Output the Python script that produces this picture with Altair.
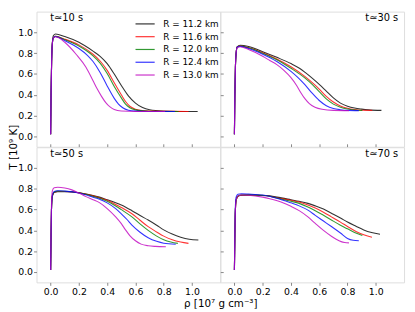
import altair as alt
import pandas as pd

R_LABELS = ["R = 11.2 km", "R = 11.6 km", "R = 12.0 km", "R = 12.4 km", "R = 13.0 km"]
COLORS = ["#000000", "#ff0000", "#008000", "#0000ff", "#bf00bf"]
PANEL_LABELS = ["t≃10 s", "t≃30 s", "t≃50 s", "t≃70 s"]
X_TICKS = [0.0, 0.2, 0.4, 0.6, 0.8, 1.0]
Y_TICKS = [0.0, 0.2, 0.4, 0.6, 0.8, 1.0]

# (rho [1e7 g/cm3], T [1e9 K])
t10_k = [(0, 0.02), (0.003, 0.40), (0.007, 0.72), (0.012, 0.90), (0.02, 0.97), (0.035, 0.985), (0.1, 0.96), (0.2, 0.905), (0.3, 0.82), (0.35, 0.77), (0.4, 0.70), (0.45, 0.60), (0.5, 0.49), (0.55, 0.39), (0.6, 0.32), (0.65, 0.277), (0.7, 0.256), (0.8, 0.243), (0.9, 0.24), (1.04, 0.24)]
t10_r = [(0, 0.02), (0.003, 0.40), (0.007, 0.72), (0.012, 0.89), (0.02, 0.95), (0.035, 0.962), (0.1, 0.935), (0.2, 0.88), (0.3, 0.79), (0.35, 0.725), (0.4, 0.635), (0.45, 0.515), (0.5, 0.40), (0.53, 0.335), (0.56, 0.29), (0.6, 0.262), (0.65, 0.248), (0.75, 0.241), (0.975, 0.24)]
t10_g = [(0, 0.02), (0.003, 0.40), (0.007, 0.72), (0.012, 0.89), (0.02, 0.95), (0.035, 0.962), (0.1, 0.93), (0.2, 0.87), (0.3, 0.775), (0.35, 0.705), (0.4, 0.605), (0.45, 0.48), (0.5, 0.37), (0.53, 0.31), (0.56, 0.275), (0.6, 0.255), (0.65, 0.245), (0.75, 0.24), (0.905, 0.24)]
t10_b = [(0, 0.02), (0.003, 0.40), (0.007, 0.72), (0.012, 0.89), (0.02, 0.95), (0.035, 0.96), (0.1, 0.92), (0.2, 0.845), (0.26, 0.78), (0.3, 0.72), (0.35, 0.615), (0.4, 0.485), (0.45, 0.365), (0.48, 0.31), (0.51, 0.275), (0.55, 0.252), (0.6, 0.243), (0.7, 0.24), (0.88, 0.24)]
t10_m = [(0, 0.02), (0.003, 0.40), (0.007, 0.72), (0.012, 0.89), (0.02, 0.95), (0.035, 0.958), (0.1, 0.905), (0.18, 0.79), (0.25, 0.665), (0.3, 0.535), (0.33, 0.455), (0.36, 0.385), (0.39, 0.325), (0.42, 0.283), (0.45, 0.258), (0.5, 0.244), (0.6, 0.24), (0.81, 0.24)]

t30_k = [(0, 0.02), (0.003, 0.38), (0.007, 0.66), (0.012, 0.80), (0.02, 0.86), (0.04, 0.876), (0.1, 0.865), (0.2, 0.815), (0.3, 0.76), (0.4, 0.70), (0.46, 0.655), (0.5, 0.615), (0.55, 0.56), (0.6, 0.50), (0.65, 0.435), (0.7, 0.37), (0.75, 0.32), (0.8, 0.29), (0.85, 0.272), (0.9, 0.262), (0.95, 0.255), (1.04, 0.25)]
t30_r = [(0, 0.02), (0.003, 0.38), (0.007, 0.66), (0.012, 0.80), (0.02, 0.86), (0.04, 0.87), (0.1, 0.855), (0.2, 0.805), (0.3, 0.745), (0.4, 0.67), (0.5, 0.575), (0.565, 0.50), (0.6, 0.455), (0.65, 0.385), (0.7, 0.33), (0.75, 0.292), (0.8, 0.27), (0.85, 0.258), (0.9, 0.252), (0.975, 0.25)]
t30_g = [(0, 0.02), (0.003, 0.38), (0.007, 0.66), (0.012, 0.80), (0.02, 0.86), (0.04, 0.868), (0.1, 0.852), (0.2, 0.80), (0.3, 0.738), (0.4, 0.655), (0.5, 0.56), (0.55, 0.50), (0.6, 0.43), (0.65, 0.36), (0.7, 0.31), (0.75, 0.28), (0.8, 0.263), (0.85, 0.254), (0.905, 0.25)]
t30_b = [(0, 0.02), (0.003, 0.38), (0.007, 0.66), (0.012, 0.80), (0.02, 0.86), (0.04, 0.866), (0.1, 0.845), (0.2, 0.79), (0.3, 0.72), (0.4, 0.625), (0.45, 0.565), (0.5, 0.495), (0.55, 0.415), (0.6, 0.345), (0.65, 0.295), (0.7, 0.268), (0.75, 0.256), (0.8, 0.25), (0.88, 0.248)]
t30_m = [(0, 0.02), (0.003, 0.38), (0.007, 0.66), (0.012, 0.80), (0.02, 0.855), (0.04, 0.862), (0.1, 0.835), (0.2, 0.77), (0.25, 0.73), (0.3, 0.69), (0.35, 0.635), (0.4, 0.565), (0.44, 0.49), (0.47, 0.42), (0.5, 0.36), (0.53, 0.315), (0.57, 0.28), (0.62, 0.26), (0.7, 0.25), (0.81, 0.248)]

t50_k = [(0, 0.02), (0.003, 0.35), (0.006, 0.6), (0.012, 0.73), (0.025, 0.765), (0.05, 0.772), (0.1, 0.772), (0.2, 0.762), (0.3, 0.735), (0.345, 0.72), (0.4, 0.695), (0.46, 0.667), (0.5, 0.645), (0.575, 0.59), (0.63, 0.545), (0.69, 0.50), (0.75, 0.45), (0.8, 0.405), (0.86, 0.365), (0.92, 0.335), (0.98, 0.315), (1.045, 0.307)]
t50_r = [(0, 0.02), (0.003, 0.35), (0.006, 0.6), (0.012, 0.73), (0.025, 0.768), (0.05, 0.775), (0.1, 0.775), (0.2, 0.762), (0.3, 0.732), (0.345, 0.715), (0.4, 0.69), (0.46, 0.65), (0.5, 0.62), (0.575, 0.56), (0.63, 0.5), (0.69, 0.436), (0.75, 0.385), (0.8, 0.345), (0.86, 0.31), (0.92, 0.288), (0.975, 0.275)]
t50_g = [(0, 0.02), (0.003, 0.35), (0.006, 0.6), (0.012, 0.73), (0.025, 0.77), (0.05, 0.778), (0.1, 0.776), (0.2, 0.762), (0.3, 0.728), (0.345, 0.71), (0.4, 0.68), (0.46, 0.635), (0.5, 0.60), (0.575, 0.53), (0.63, 0.465), (0.69, 0.40), (0.75, 0.345), (0.8, 0.31), (0.85, 0.288), (0.9, 0.275)]
t50_b = [(0, 0.02), (0.003, 0.35), (0.006, 0.6), (0.012, 0.735), (0.025, 0.775), (0.05, 0.782), (0.1, 0.778), (0.2, 0.76), (0.3, 0.72), (0.345, 0.70), (0.4, 0.665), (0.46, 0.61), (0.5, 0.56), (0.54, 0.505), (0.575, 0.45), (0.63, 0.385), (0.69, 0.33), (0.75, 0.295), (0.8, 0.277), (0.885, 0.267)]
t50_m = [(0, 0.02), (0.003, 0.4), (0.006, 0.65), (0.012, 0.78), (0.025, 0.81), (0.05, 0.815), (0.1, 0.808), (0.15, 0.79), (0.207, 0.755), (0.25, 0.725), (0.3, 0.695), (0.345, 0.667), (0.4, 0.61), (0.46, 0.53), (0.5, 0.465), (0.53, 0.405), (0.56, 0.35), (0.6, 0.30), (0.64, 0.268), (0.69, 0.252), (0.74, 0.246), (0.815, 0.243)]

t70_k = [(0, 0.02), (0.003, 0.33), (0.006, 0.56), (0.012, 0.69), (0.025, 0.728), (0.05, 0.738), (0.1, 0.74), (0.229, 0.735), (0.3, 0.72), (0.4, 0.695), (0.458, 0.68), (0.52, 0.66), (0.572, 0.636), (0.63, 0.605), (0.686, 0.566), (0.75, 0.52), (0.8, 0.48), (0.86, 0.44), (0.915, 0.405), (0.97, 0.38), (1.03, 0.363)]
t70_r = [(0, 0.02), (0.003, 0.33), (0.006, 0.56), (0.012, 0.69), (0.025, 0.728), (0.05, 0.738), (0.1, 0.74), (0.229, 0.733), (0.3, 0.715), (0.4, 0.69), (0.458, 0.674), (0.52, 0.645), (0.572, 0.615), (0.63, 0.575), (0.686, 0.53), (0.75, 0.48), (0.8, 0.437), (0.86, 0.39), (0.92, 0.355), (0.973, 0.335)]
t70_g = [(0, 0.02), (0.003, 0.33), (0.006, 0.56), (0.012, 0.69), (0.025, 0.73), (0.05, 0.74), (0.1, 0.742), (0.229, 0.733), (0.3, 0.712), (0.4, 0.68), (0.458, 0.66), (0.52, 0.625), (0.572, 0.59), (0.63, 0.545), (0.686, 0.50), (0.75, 0.45), (0.8, 0.415), (0.85, 0.38), (0.905, 0.352)]
t70_b = [(0, 0.02), (0.003, 0.35), (0.006, 0.6), (0.012, 0.72), (0.025, 0.748), (0.05, 0.753), (0.1, 0.75), (0.2, 0.74), (0.3, 0.71), (0.4, 0.665), (0.458, 0.636), (0.52, 0.595), (0.572, 0.545), (0.63, 0.49), (0.686, 0.437), (0.75, 0.375), (0.8, 0.323), (0.84, 0.305), (0.88, 0.30)]
t70_m = [(0, 0.02), (0.003, 0.33), (0.006, 0.56), (0.012, 0.69), (0.025, 0.73), (0.05, 0.74), (0.1, 0.738), (0.2, 0.72), (0.25, 0.705), (0.343, 0.667), (0.4, 0.632), (0.458, 0.59), (0.52, 0.53), (0.572, 0.467), (0.63, 0.40), (0.686, 0.344), (0.72, 0.315), (0.755, 0.292), (0.78, 0.284), (0.81, 0.28)]

PANEL_CURVES = [
    [t10_k, t10_r, t10_g, t10_b, t10_m],
    [t30_k, t30_r, t30_g, t30_b, t30_m],
    [t50_k, t50_r, t50_g, t50_b, t50_m],
    [t70_k, t70_r, t70_g, t70_b, t70_m],
]

W, H = 187, 137.5
FRAME = "#888888"
FONT = "DejaVu Sans"
X_DOMAIN = [-0.1, 1.2]
Y_DOMAIN = [-0.1, 1.2]

legend = alt.Legend(
    orient="none", legendX=103, legendY=5, title=None,
    symbolType="M-1.5,0L1.5,0", symbolSize=169, symbolStrokeWidth=1.2,
    symbolOpacity=0.8, labelFontSize=9, labelFont=FONT, labelColor="black",
    rowPadding=0, labelOffset=11, padding=0,
)


def panel(idx, x_labels, y_labels, right_label, x_title=False, y_title=False):
    rows = []
    for lab, pts in zip(R_LABELS, PANEL_CURVES[idx]):
        for i, (r, t) in enumerate(pts):
            rows.append({"rho": r, "T": t, "R": lab, "i": i})
    df = pd.DataFrame(rows)

    x_kw = dict(values=X_TICKS, domain=False, grid=False, tickSize=3, tickColor=FRAME)
    if x_labels:
        x_kw.update(format=".1f", labelPadding=1, labelFontSize=9.5, labelFont=FONT,
                    labelColor="black", labelFlush=False)
    else:
        x_kw.update(labels=False, offset=-3)
    if x_title:
        x_kw.update(titleX=W, titleY=25, titleBaseline="alphabetic", titleAlign="center",
                    titleFontSize=10.5, titleFont=FONT, titleFontWeight="normal",
                    titleColor="black")
    y_kw = dict(values=Y_TICKS, domain=False, grid=False, tickSize=3, tickColor=FRAME)
    if y_labels:
        y_kw.update(format=".1f", labelPadding=1, labelFontSize=9.5, labelFont=FONT,
                    labelColor="black", labelFlush=False)
    else:
        y_kw.update(labels=False, offset=-3)
    if y_title:
        y_kw.update(titleX=-18.5, titleY=H, titleAngle=270, titleBaseline="bottom",
                    titleAlign="center", titleFontSize=10.5, titleFont=FONT,
                    titleFontWeight="normal", titleColor="black")

    lines = alt.Chart(df).mark_line(strokeWidth=1.1, opacity=0.8, interpolate="monotone").encode(
        x=alt.X("rho:Q", scale=alt.Scale(domain=X_DOMAIN, nice=False, zero=False),
                axis=alt.Axis(**x_kw),
                title="ρ [10⁷ g cm⁻³]" if x_title else None),
        y=alt.Y("T:Q", scale=alt.Scale(domain=Y_DOMAIN, nice=False, zero=False),
                axis=alt.Axis(**y_kw),
                title="T [10⁹ K]" if y_title else None),
        color=alt.Color("R:N", scale=alt.Scale(domain=R_LABELS, range=COLORS), legend=legend),
        order="i:Q",
        detail="R:N",
    )
    label_df = pd.DataFrame({"label": [PANEL_LABELS[idx]]})
    text = alt.Chart(label_df).mark_text(
        font=FONT, fontSize=10, color="black", baseline="alphabetic",
        align="right" if right_label else "left",
    ).encode(
        text="label:N",
        x=alt.value(W - 6 if right_label else 14),
        y=alt.value(10),
    )
    return alt.layer(lines, text).properties(width=W, height=H)


tl = panel(0, x_labels=False, y_labels=True, right_label=False, y_title=True)
tr = panel(1, x_labels=False, y_labels=False, right_label=True)
bl = panel(2, x_labels=True, y_labels=True, right_label=False, x_title=True)
br = panel(3, x_labels=True, y_labels=False, right_label=True)

chart = alt.concat(tl, tr, bl, br, columns=2, spacing=0, bounds="flush").properties(
    padding={"left": 0, "top": 0, "right": 2, "bottom": 2}
).configure_view(stroke=FRAME, strokeWidth=1).configure(background="white")

chart.save("out.html", embed_options={"renderer": "svg", "actions": False})
